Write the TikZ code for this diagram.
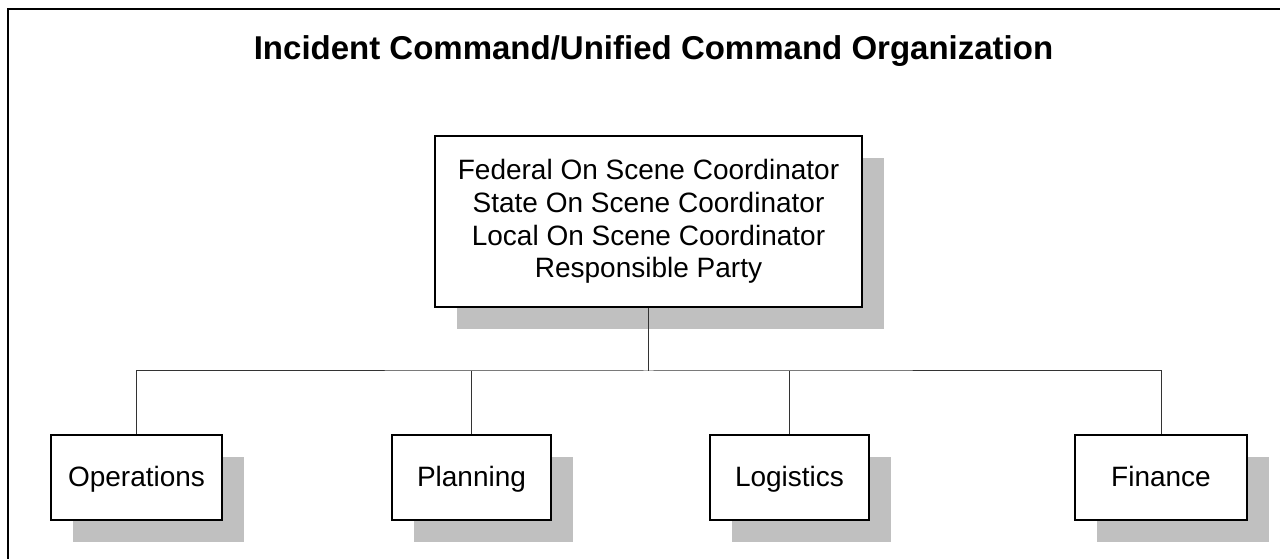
\documentclass[tikz,border=0pt]{standalone}
\usepackage{fontspec}
\setmainfont{Liberation Sans}
\usepackage{tikz}
\usetikzlibrary{shadows}

\definecolor{shadowgray}{RGB}{192,192,192}

\tikzset{
  unit/.style={draw, line width=1.5pt, fill=white, inner sep=0pt,
    font=\fontsize{28}{32.7}\selectfont, align=center,
    drop shadow={fill=shadowgray, opacity=1, shadow xshift=22pt, shadow yshift=-22pt}},
  section/.style={unit, minimum height=85, text height=22, text depth=4},
  link/.style={draw=black!80, line width=1pt}
}

\begin{document}
\begin{tikzpicture}[x=1pt, y=1pt]
  \useasboundingbox (0, 0) rectangle (1280, 559);
  \draw[line width=2pt] (8, -20) -- (8, 550) -- (1300, 550);

  \node[anchor=base, font=\fontsize{33}{40}\selectfont\bfseries] (title) at (653.5, 499)
    {Incident Command/Unified Command Organization};

  \node[unit, minimum width=427, minimum height=171] (osc) at (648.5, 337.5)
    {Federal On Scene Coordinator\\State On Scene Coordinator\\Local On Scene Coordinator\\Responsible Party};

  \foreach \name/\x/\w/\txt in {ops/136.5/171/Operations, plan/471.5/159/Planning,
      log/789.5/159/Logistics, fin/1161/172/Finance}
    \node[section, minimum width=\w] (\name) at (\x, 81.5) {\txt};

  \coordinate (bus) at (648.5, 188);
  \draw[link] (osc.south) -- (bus);
  \draw[link] (ops.north) |- (bus) -| (fin.north);
  \draw[link] (plan.north) -- (plan.north |- bus);
  \draw[link] (log.north) -- (log.north |- bus);
\end{tikzpicture}
\end{document}
